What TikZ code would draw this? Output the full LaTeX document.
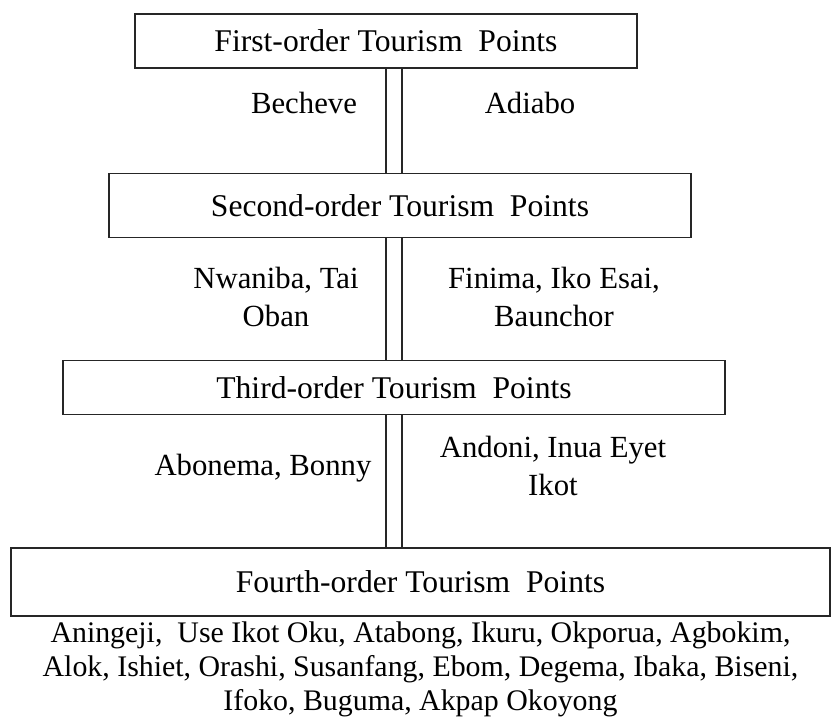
\documentclass[tikz,border=0pt]{standalone}
\usepackage{fontspec}
\setmainfont{Liberation Serif}
\usepackage{tikz}
\usetikzlibrary{
    positioning       % For relative placement (below=of ...)
}
\tikzset{
  % Style for the order boxes
  tier/.style={
    rectangle, draw=black!85, line width=0.75pt, fill=white,
    inner sep=0pt, text centered, font=\fontsize{18pt}{21.5pt}\selectfont
  },
  % Style for the place names beside the links
  places/.style={
    align=center, inner sep=0pt
  },
  % Style for the double links between boxes
  link/.style={
    draw=black!85, double, line width=0.75pt, double distance=0.29cm
  }
}

\begin{document}
\begin{tikzpicture}[
        x=0.02cm, y=-0.02cm,
        font=\fontsize{17.5pt}{21.5pt}\selectfont
    ]
        \useasboundingbox (0,0) rectangle (831,727);

        \node (first) [tier, minimum width=10.04cm, minimum height=1.08cm] at (386,41) {First-order Tourism\ \ Points};
        \node (second) [tier, minimum width=11.64cm, minimum height=1.28cm, below=2.08cm of first, xshift=0.28cm] {Second-order Tourism\ \ Points};
        \node (third) [tier, minimum width=13.24cm, minimum height=1.08cm, below=2.44cm of second, xshift=-0.12cm] {Third-order Tourism\ \ Points};
        \node (fourth) [tier, minimum width=16.38cm, minimum height=1.36cm, below=2.64cm of third, xshift=0.53cm] {Fourth-order Tourism\ \ Points};

        \draw[link] (first.south -| 394,0) -- (second.north -| 394,0);
        \draw[link] (second.south -| 394,0) -- (third.north -| 394,0);
        \draw[link] (third.south -| 394,0) -- (fourth.north -| 394,0);

        \node (becheve) [places] at (304,103) {Becheve};
        \node (adiabo) [places] at (530,103) {Adiabo};
        \node (nwaniba) [places] at (276,297) {Nwaniba, Tai\\Oban};
        \node (finima) [places] at (554,297) {Finima, Iko Esai,\\Baunchor};
        \node (abonema) [places] at (263,468) {Abonema, Bonny};
        \node (andoni) [places] at (553,466) {Andoni, Inua Eyet\\Ikot};

        \node (rest) [places, font=\fontsize{17pt}{19.6pt}\selectfont, below=0.09cm of fourth] {Aningeji,\ \ Use Ikot Oku, Atabong, Ikuru, Okporua, Agbokim,\\Alok, Ishiet, Orashi, Susanfang, Ebom, Degema, Ibaka, Biseni,\\Ifoko, Buguma, Akpap Okoyong};

    \end{tikzpicture}
\end{document}
